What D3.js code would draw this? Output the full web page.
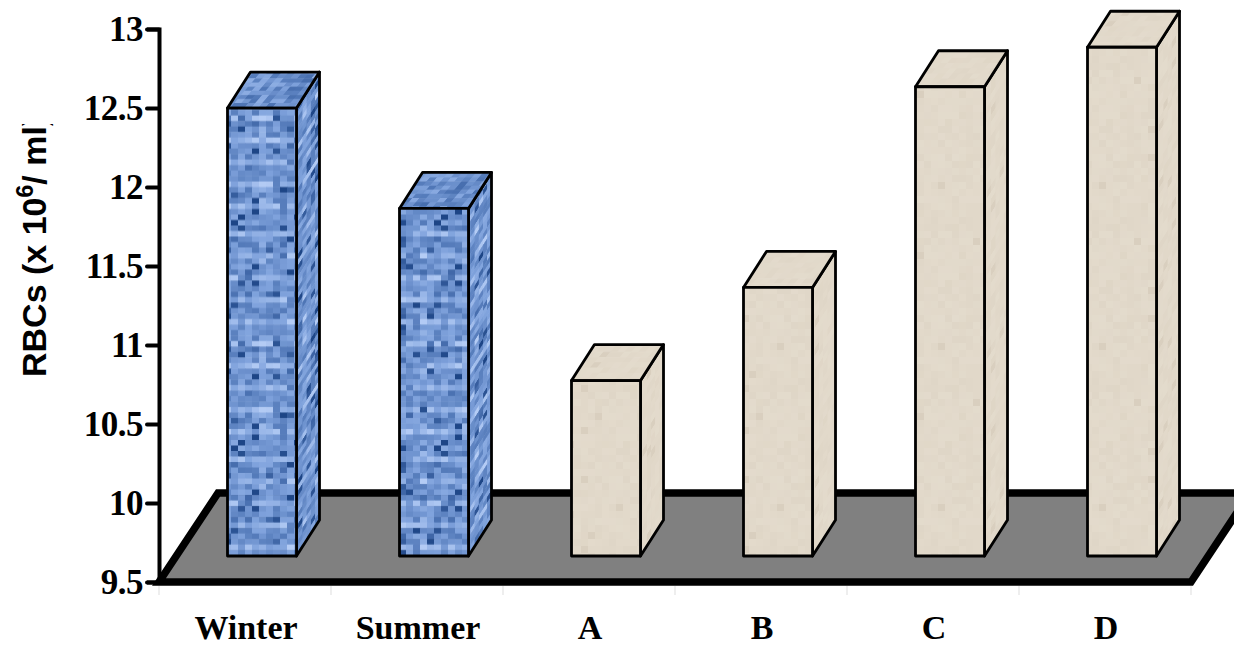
<!DOCTYPE html>
<html>
<head>
<meta charset="utf-8">
<script src="https://cdn.jsdelivr.net/npm/d3@7"></script>
<style>
  html, body { margin: 0; padding: 0; background: #fff; overflow: hidden; }
  text { fill: #000; }
</style>
</head>
<body>
<div id="chart"></div>
<script>
// values
const categories = ["Winter", "Summer", "A", "B", "C", "D"];
const rbcValues = [12.335, 11.70, 10.61, 11.20, 12.47, 12.72];
const seasonGroup = ["blue", "blue", "beige", "beige", "beige", "beige"];
const yTicks = [9.5, 10, 10.5, 11, 11.5, 12, 12.5, 13];

const width = 1234, height = 648;

const svg = d3.select("#chart").append("svg")
  .attr("width", width)
  .attr("height", height)
  .style("display", "block");

const defs = svg.append("defs");

const x = d3.scaleBand().domain(categories).range([159, 1191]);
const y = d3.scaleLinear().domain([9.5, 13]).range([582, 29]);

// the 3d look: how far the floor and the bars are pushed back
const floorDx = 59, floorDy = 89;
const barOffsetX = 68.5, barOffsetY = 26, barW = 69;
const depthX = 23, depthY = 36;

// little repeatable noise for the textures, no Math.random so the picture stays the same
let seed = 12345;
function noise() {
  seed = (seed * 1103515245 + 12345) % 2147483648;
  return (seed >> 8) % 10000 / 10000;
}

function texture(id, cellW, cellH, cols, rows, colorAt, transform) {
  const p = defs.append("pattern")
    .attr("id", id)
    .attr("patternUnits", "userSpaceOnUse")
    .attr("width", cellW * cols)
    .attr("height", cellH * rows);
  if (transform) p.attr("patternTransform", transform);
  for (let r = 0; r < rows; r++) {
    for (let c = 0; c < cols; c++) {
      p.append("rect")
        .attr("x", c * cellW).attr("y", r * cellH)
        .attr("width", cellW + 0.5).attr("height", cellH + 0.5)
        .attr("fill", colorAt(r, c));
    }
  }
}

const blueRamp = d3.scaleLinear()
  .domain([0, 0.3, 0.65, 1])
  .range(["#1d4586", "#4d74b4", "#7fa2dc", "#b4ccf5"]);
const beigeRamp = d3.scaleLinear()
  .domain([0, 0.5, 1])
  .range(["#d3c9b8", "#e1d8c9", "#e8e1d4"]);

function blueCell(r, c) {
  let t = 0.35 + noise() * 0.35;
  if (r % 4 === 1 && noise() > 0.2) t += 0.3;   // light woven rows
  if (c % 6 === 2 && noise() > 0.5) t += 0.15;  // and some columns
  if (noise() > 0.88) t -= 0.4;                 // dark spots
  return blueRamp(Math.max(0, Math.min(1, t)));
}
function beigeCell() {
  const t = noise();
  return beigeRamp(t > 0.96 ? 0.2 : 0.42 + t * 0.25);
}

const sideTf = `matrix(0.6,${-depthY / depthX * 0.6},0,1,0,0)`;
const topTf = `matrix(1,0,${-depthX / depthY},0.75,0,0)`;

texture("blueFront", 7, 5.5, 29, 41, blueCell);
texture("blueSide", 7, 5.5, 29, 41, blueCell, sideTf);
texture("blueTop", 7, 5.5, 29, 41, () => blueRamp(0.25 + noise() * 0.5), topTf);
texture("beigeFront", 7, 7, 23, 23, beigeCell);
texture("beigeSide", 7, 7, 23, 23, beigeCell, sideTf);
texture("beigeTop", 7, 7, 23, 23, beigeCell, topTf);

// floor
const floorPts = [
  [x.range()[0], y(9.5)],
  [x.range()[1], y(9.5)],
  [x.range()[1] + floorDx, y(9.5) - floorDy],
  [x.range()[0] + floorDx, y(9.5) - floorDy]
];
svg.append("polygon")
  .attr("points", floorPts.join(" "))
  .attr("fill", "#808080")
  .attr("stroke", "#000")
  .attr("stroke-width", 7.5)
  .attr("stroke-linejoin", "miter");

// y axis
const yAxis = svg.append("g")
  .attr("transform", `translate(${x.range()[0]},0)`)
  .call(d3.axisLeft(y).tickValues(yTicks).tickSize(12).tickPadding(4).tickFormat(d => d));
yAxis.select(".domain").attr("stroke", "#000").attr("stroke-width", 4);
yAxis.selectAll(".tick line").attr("stroke", "#000").attr("stroke-width", 4).attr("stroke-linecap", "round");
yAxis.selectAll(".tick text")
  .attr("font-family", "'Liberation Serif', serif")
  .attr("font-weight", "bold")
  .attr("font-size", 35)
  .attr("letter-spacing", -0.5)
  .attr("fill", "#000");

// x axis, only faint ticks and the labels
const xAxis = svg.append("g")
  .attr("transform", `translate(1,${y(9.5)})`)
  .call(d3.axisBottom(x).tickSize(0).tickPadding(33));
xAxis.select(".domain").remove();
xAxis.selectAll(".tick text")
  .attr("font-family", "'Liberation Serif', serif")
  .attr("font-weight", "bold")
  .attr("font-size", 34)
  .attr("fill", "#000");
svg.append("g").selectAll("line")
  .data(categories.concat("end"))
  .join("line")
    .attr("x1", d => d === "end" ? x.range()[1] : x(d))
    .attr("x2", d => d === "end" ? x.range()[1] : x(d))
    .attr("y1", y(9.5) + 4)
    .attr("y2", y(9.5) + 13)
    .attr("stroke", "#ddd")
    .attr("stroke-width", 1);

// bars
const bars = svg.append("g").selectAll("g")
  .data(categories.map((c, i) => ({ name: c, value: rbcValues[i], group: seasonGroup[i] })))
  .join("g")
    .attr("stroke", "#000")
    .attr("stroke-width", 2.8)
    .attr("stroke-linejoin", "round");

const left = d => x(d.name) + barOffsetX;
const right = d => left(d) + barW;
const topY = d => y(d.value) - barOffsetY;
const baseY = y(9.5) - barOffsetY;

bars.append("polygon")
  .attr("fill", d => `url(#${d.group}Side)`)
  .attr("points", d => [
    [right(d), topY(d)],
    [right(d) + depthX, topY(d) - depthY],
    [right(d) + depthX, baseY - depthY],
    [right(d), baseY]
  ].join(" "));

bars.append("polygon")
  .attr("fill", d => `url(#${d.group}Top)`)
  .attr("points", d => [
    [left(d), topY(d)],
    [left(d) + depthX, topY(d) - depthY],
    [right(d) + depthX, topY(d) - depthY],
    [right(d), topY(d)]
  ].join(" "));

bars.append("rect")
  .attr("fill", d => `url(#${d.group}Front)`)
  .attr("x", left)
  .attr("y", topY)
  .attr("width", barW)
  .attr("height", d => baseY - topY(d));

// y title, the closing bracket is cut off in the original
defs.append("clipPath").attr("id", "titleClip")
  .append("rect").attr("x", 0).attr("y", 124).attr("width", 70).attr("height", 300);
const title = svg.append("g").attr("clip-path", "url(#titleClip)")
  .append("text")
  .attr("transform", "translate(46,377) rotate(-90)")
  .attr("font-family", "'Liberation Sans', Arial, sans-serif")
  .attr("font-weight", "bold")
  .attr("font-size", 34);
title.append("tspan").text("RBCs (x 10");
title.append("tspan").attr("dy", -13).attr("font-size", 23).text("6");
title.append("tspan").attr("dy", 13).text("/ ml)");
</script>
</body>
</html>
